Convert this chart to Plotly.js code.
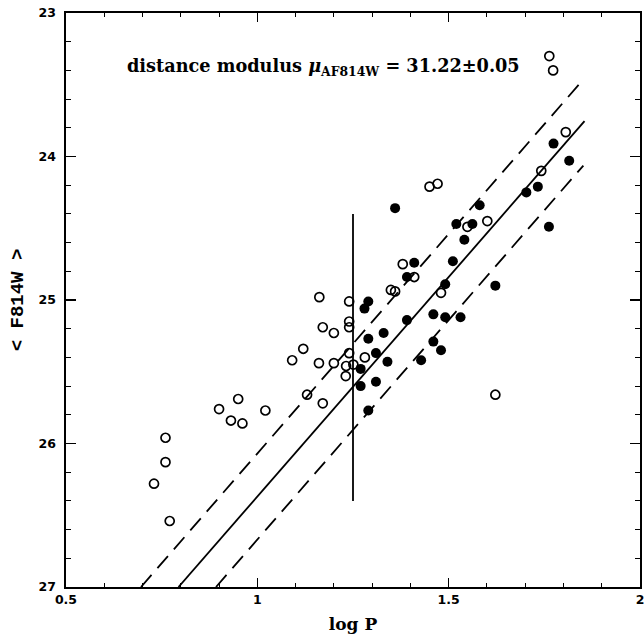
<!DOCTYPE html>
<html>
<head>
<meta charset="utf-8">
<script src="https://cdn.plot.ly/plotly-3.0.1.min.js"></script>
<style>html,body{margin:0;padding:0;background:#fff;}#chart{width:644px;height:637px;}</style>
</head>
<body>
<div id="chart"></div>
<script>
// Open circles: Cepheid candidates (log P, <F814W>)
const openLogP = [1.763,1.773,1.806,1.742,1.450,1.471,1.601,1.549,1.380,1.410,1.349,1.360,1.480,1.622,1.162,1.240,1.240,1.240,1.171,1.200,1.120,1.240,1.091,1.161,1.200,1.232,1.251,1.281,1.231,0.950,0.900,1.021,0.931,0.961,1.130,1.171,0.760,0.760,0.730,0.771];
const openMag  = [23.30,23.40,23.83,24.10,24.21,24.19,24.45,24.49,24.75,24.84,24.93,24.94,24.95,25.66,24.98,25.01,25.15,25.19,25.19,25.23,25.34,25.37,25.42,25.44,25.44,25.46,25.45,25.40,25.53,25.69,25.76,25.77,25.84,25.86,25.66,25.72,25.96,26.13,26.28,26.54];
// Filled circles: Cepheids used in the fit
const filledLogP = [1.774,1.815,1.733,1.703,1.360,1.581,1.520,1.562,1.762,1.541,1.410,1.511,1.391,1.491,1.622,1.290,1.280,1.391,1.460,1.491,1.531,1.330,1.290,1.460,1.480,1.310,1.428,1.340,1.270,1.270,1.310,1.290];
const filledMag  = [23.91,24.03,24.21,24.25,24.36,24.34,24.47,24.47,24.49,24.58,24.74,24.73,24.84,24.89,24.90,25.01,25.06,25.14,25.10,25.12,25.12,25.23,25.27,25.29,25.35,25.37,25.42,25.43,25.48,25.60,25.57,25.77];
// PL relation and its +/- bounds (end points)
const plLogP = [0.794, 1.855];
const plMag = [27.0, 23.754];
const upperLogP = [0.696, 1.855];
const upperMag = [27.0, 23.454];
const lowerLogP = [0.892, 1.852];
const lowerMag = [27.0, 24.063];
// Period cut-off
const cutLogP = [1.25, 1.25];
const cutMag = [24.4, 26.4];

const titleText = 'distance modulus <i>μ</i><sub>AF814W</sub> = 31.22±0.05';

const black = '#000';
const traces = [
  {x: plLogP, y: plMag, mode: 'lines', line: {color: black, width: 1.8}, hoverinfo: 'skip'},
  {x: upperLogP, y: upperMag, mode: 'lines', line: {color: black, width: 1.8, dash: '16px,9px'}, hoverinfo: 'skip'},
  {x: lowerLogP, y: lowerMag, mode: 'lines', line: {color: black, width: 1.8, dash: '16px,9px'}, hoverinfo: 'skip'},
  {x: cutLogP, y: cutMag, mode: 'lines', line: {color: black, width: 1.8}, hoverinfo: 'skip'},
  {x: openLogP, y: openMag, mode: 'markers', marker: {symbol: 'circle-open', size: 9, color: black, line: {width: 1.7, color: black}}},
  {x: filledLogP, y: filledMag, mode: 'markers', marker: {symbol: 'circle', size: 10, color: black}}
];

const tickFont = {family: 'DejaVu Sans', size: 12.5, color: black, weight: 'bold'};
const layout = {
  width: 644, height: 637,
  margin: {l: 66, r: 4, t: 13, b: 50},
  paper_bgcolor: '#fff', plot_bgcolor: '#fff',
  showlegend: false,
  xaxis: {
    range: [0.5, 2], dtick: 0.5, tick0: 0.5,
    ticks: 'inside', ticklen: 9, tickwidth: 1.3, tickcolor: black,
    minor: {dtick: 0.1, ticks: 'inside', ticklen: 4, tickwidth: 1.1, tickcolor: black},
    showline: true, linecolor: black, linewidth: 1.6, mirror: 'ticks',
    showgrid: false, zeroline: false,
    tickfont: tickFont, ticklabeloverflow: 'allow',
    title: {text: 'log P', font: {family: 'DejaVu Serif', size: 17, color: black, weight: 'bold'}, standoff: 12}
  },
  yaxis: {
    range: [27, 23], dtick: 1, tick0: 23,
    ticks: 'inside', ticklen: 10, tickwidth: 1.3, tickcolor: black,
    minor: {dtick: 0.2, ticks: 'inside', ticklen: 5, tickwidth: 1.1, tickcolor: black},
    showline: true, linecolor: black, linewidth: 1.6, mirror: 'ticks',
    showgrid: false, zeroline: false,
    tickfont: tickFont, ticklabelstandoff: 6, ticklabeloverflow: 'allow',
    title: {text: '&lt; F814W &gt;', font: {family: 'Liberation Mono', size: 19, color: black, weight: 'bold'}, standoff: 10}
  },
  annotations: [{
    x: 0.653, y: 23.374, xref: 'x', yref: 'y', xanchor: 'left', yanchor: 'middle',
    text: titleText, showarrow: false,
    font: {family: 'DejaVu Serif', size: 17.7, color: black, weight: 'bold'}
  }]
};

Plotly.newPlot('chart', traces, layout, {staticPlot: true, displayModeBar: false});
</script>
</body>
</html>
